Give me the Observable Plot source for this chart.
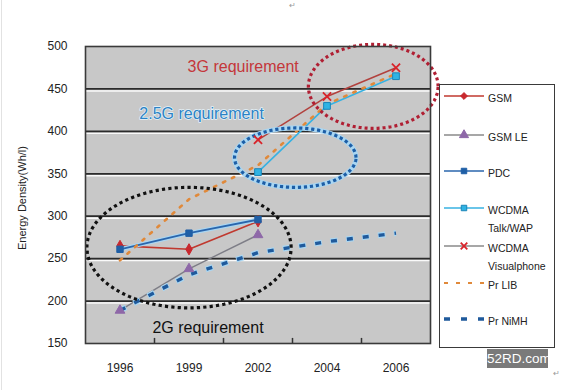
<!DOCTYPE html>
<html>
<head>
<meta charset="utf-8">
<script src="https://cdn.jsdelivr.net/npm/d3@7"></script>
<script src="https://cdn.jsdelivr.net/npm/@observablehq/plot@0.6"></script>
<style>
  html, body { margin: 0; padding: 0; background: #fff; }
  #wrap { position: relative; width: 580px; height: 390px; overflow: hidden; font-family: "Liberation Sans", Arial, sans-serif; }
  #leftline { position: absolute; left: 1px; top: 0; width: 1px; height: 390px; background: #e2e2e2; }
  #legend { position: absolute; left: 439px; top: 84px; width: 114px; height: 262px; border: 1.5px solid #3a3a3a; background: #fff; }
  .lrow { position: absolute; left: 0; width: 114px; font-size: 10.5px; color: #222; }
  .lrow svg { position: absolute; left: 3px; top: -6px; }
  .lrow span { position: absolute; left: 48px; top: -7px; white-space: nowrap; line-height: 18px; }
  #wm { position: absolute; left: 487px; top: 349px; width: 61px; height: 19px; background: #7a7a7a; color: #fff; font-size: 13.5px; line-height: 19px; text-align: center; }
  .ret { position: absolute; font-size: 8px; line-height: 9px; color: #999; }
</style>
</head>
<body>
<div id="wrap"><div id="leftline"></div></div>
<script>
// ---- data ----
const years = ["1996", "1999", "2002", "2004", "2006"];
const gsm         = [265, 261, 294, null, null];
const gsmLE       = [189, 238, 278, null, null];
const pdc         = [261, 280, 296, null, null];
const wcdmaTalk   = [null, null, 352, 430, 465];
const wcdmaVisual = [null, null, 390, 441, 475];
const prLIB       = [248, 320, 360, 432, 468];
const prNiMH      = [189, 231, 257, 270, 280];
const yTicks = [150, 200, 250, 300, 350, 400, 450, 500];
const gridValues = [200, 250, 300, 350, 400, 450];
const seriesNames = ["GSM", "GSM LE", "PDC", "WCDMA Talk/WAP", "WCDMA Visualphone", "Pr LIB", "Pr NiMH"];
const seriesValues = [gsm, gsmLE, pdc, wcdmaTalk, wcdmaVisual, prLIB, prNiMH];
const annotationLabels = ["3G requirement", "2.5G requirement", "2G requirement"];
const axisTitle = "Energy Density(Wh/l)";

// ---- styles ----
const styles = {
  "GSM":               {stroke: "#c0392f", width: 1.6, symbol: "diamond", fill: "#c8282e", r: 3.4},
  "GSM LE":            {stroke: "#7d7d86", width: 1.4, symbol: "triangle", fill: "#8e68a8", r: 3.6},
  "PDC":               {stroke: "#2a66ad", width: 1.8, symbol: "square", fill: "#1f5fa6", r: 3.6, halo: "#a9d6f2"},
  "WCDMA Talk/WAP":    {stroke: "#38b2e2", width: 1.6, symbol: "square", fill: "#2fb3e4", r: 3.8, markStroke: "#1b85b8"},
  "WCDMA Visualphone": {stroke: "#b2423e", width: 1.5, symbol: "times", fill: "#d8232a", r: 3.8},
  "Pr LIB":            {stroke: "#e0893a", width: 2.6, dash: "2.5,7.5", cap: "round"},
  "Pr NiMH":           {stroke: "#1f5a9c", width: 3.4, dash: "6,10", halo: "#a9d6f2", cap: "butt"}
};

const rows = seriesNames.flatMap((name, k) =>
  seriesValues[k].map((v, i) => ({series: name, i, value: v})).filter(d => d.value != null));
const bySeries = name => rows.filter(d => d.series === name);

// ellipse annotations (center/radii in data units)
const ellipses = [
  {cx: 1.0, cy: 263, rx: 1.48, ry: 71, color: "#111", halo: null, dash: "3.2,3.2"},
  {cx: 2.54, cy: 369, rx: 0.88, ry: 35, color: "#1d5ea6", halo: "#a9d6f2", dash: "3.2,2.8"},
  {cx: 3.67, cy: 453, rx: 0.94, ry: 49.5, color: "#b01f33", halo: null, dash: "3,3"}
];
const ellipsePts = e => d3.range(0, 2 * Math.PI, Math.PI / 90).map(t => ({x: e.cx + e.rx * Math.cos(t), y: e.cy + e.ry * Math.sin(t)}));

const marks = [];
marks.push(Plot.frame({fill: "#c8c8c8"}));
marks.push(Plot.ruleY(gridValues, {stroke: "#fafafa", strokeWidth: 1.4, dy: 2}));
marks.push(Plot.ruleY(gridValues, {stroke: "#2b2b2b", strokeWidth: 1.8}));
marks.push(Plot.ruleX([0.5, 1.5, 2.5, 3.5], {y1: 150, y2: 156, stroke: "#333", strokeWidth: 1.5}));

// series lines
for (const name of seriesNames) {
  const s = styles[name];
  const data = bySeries(name);
  const cap = s.cap || "round";
  if (s.halo) marks.push(Plot.line(data, {x: "i", y: "value", stroke: s.halo, strokeWidth: s.width + 2.4, strokeDasharray: s.dash ? "7.5,8.5" : undefined, strokeDashoffset: s.dash ? 0.75 : undefined, strokeLinecap: cap}));
  marks.push(Plot.line(data, {x: "i", y: "value", stroke: s.stroke, strokeWidth: s.width, strokeDasharray: s.dash, strokeLinecap: cap}));
}

// ellipses
for (const e of ellipses) {
  const pts = ellipsePts(e);
  if (e.halo) marks.push(Plot.line(pts, {x: "x", y: "y", curve: "linear-closed", stroke: e.halo, strokeWidth: 5, strokeLinecap: "butt"}));
  marks.push(Plot.line(pts, {x: "x", y: "y", curve: "linear-closed", stroke: e.color, strokeWidth: 3.2, strokeDasharray: e.dash, strokeLinecap: "butt"}));
}

// markers
for (const name of seriesNames) {
  const s = styles[name];
  if (!s.symbol) continue;
  const data = bySeries(name);
  if (s.symbol === "times") {
    marks.push(Plot.dot(data, {x: "i", y: "value", symbol: "times", r: s.r, stroke: s.fill, strokeWidth: 1.8}));
  } else {
    marks.push(Plot.dot(data, {x: "i", y: "value", symbol: s.symbol, r: s.r, fill: s.fill, stroke: s.markStroke || s.fill, strokeWidth: 1}));
  }
}

// text annotations
const annPos = [
  {x: 0.98, y: 476, color: "#c4373a"},
  {x: 0.28, y: 421, color: "#2b82c4"},
  {x: 0.47, y: 168, color: "#111"}
];
annotationLabels.forEach((t, k) => {
  marks.push(Plot.text([t], {x: annPos[k].x, y: annPos[k].y, text: d => d, textAnchor: "start", fill: annPos[k].color, fontSize: 16, stroke: k === 1 ? "#e4f3fb" : null, strokeWidth: 1.5, paintOrder: "stroke"}));
});

marks.push(Plot.text([axisTitle], {frameAnchor: "left", text: d => d, rotate: -90, dx: -63, dy: 55, fontSize: 11, fill: "#222"}));
marks.push(Plot.axisY(yTicks, {tickSize: 0, tickPadding: 18, fontSize: 12, label: null, fill: "#222"}));
marks.push(Plot.axisX([0, 1, 2, 3, 4], {tickSize: 0, tickPadding: 20, fontSize: 12, label: null, tickFormat: i => years[i], fill: "#222"}));
marks.push(Plot.frame({stroke: "#3a3a3a", strokeWidth: 1.6}));

const chart = Plot.plot({
  width: 580,
  height: 390,
  marginLeft: 85,
  marginRight: 150,
  marginTop: 46,
  marginBottom: 47,
  style: {fontFamily: "'Liberation Sans', Arial, sans-serif", background: "transparent", overflow: "visible"},
  x: {domain: [-0.5, 4.5]},
  y: {domain: [150, 500]},
  marks
});

const wrap = document.getElementById("wrap");
wrap.appendChild(chart);
chart.style.position = "absolute";
chart.style.left = "0";
chart.style.top = "0";

// legend
const legend = document.createElement("div");
legend.id = "legend";
const rowTops = [11, 50, 86, 123, 161, 198, 234];
seriesNames.forEach((name, k) => {
  const s = styles[name];
  const row = document.createElement("div");
  row.className = "lrow";
  row.style.top = rowTops[k] + "px";
  const ns = "http://www.w3.org/2000/svg";
  const svg = document.createElementNS(ns, "svg");
  svg.setAttribute("width", 42); svg.setAttribute("height", 12);
  const line = document.createElementNS(ns, "line");
  line.setAttribute("x1", 1); line.setAttribute("x2", 41); line.setAttribute("y1", 6); line.setAttribute("y2", 6);
  let lstroke = s.stroke;
  if (name === "GSM LE" || name === "WCDMA Visualphone") lstroke = "#8a8a8a";
  line.setAttribute("stroke", lstroke);
  line.setAttribute("stroke-width", name === "Pr NiMH" ? 3.4 : (name === "Pr LIB" ? 2.2 : 1.6));
  if (name === "Pr LIB") line.setAttribute("stroke-dasharray", "4,8");
  if (name === "Pr NiMH") line.setAttribute("stroke-dasharray", "6,11");
  svg.appendChild(line);
  if (s.symbol) {
    const sym = {diamond: d3.symbolDiamond2, triangle: d3.symbolTriangle, square: d3.symbolSquare, times: d3.symbolTimes}[s.symbol];
    const p = document.createElementNS(ns, "path");
    p.setAttribute("d", d3.symbol(sym, s.symbol === "triangle" ? 36 : 30)());
    p.setAttribute("transform", "translate(21,6)");
    if (s.symbol === "times") { p.setAttribute("stroke", s.fill); p.setAttribute("stroke-width", 1.8); p.setAttribute("fill", "none"); }
    else { p.setAttribute("fill", s.fill); p.setAttribute("stroke", s.markStroke || s.fill); }
    svg.appendChild(p);
  }
  row.appendChild(svg);
  const span = document.createElement("span");
  span.innerHTML = name.startsWith("WCDMA ") ? "WCDMA<br>" + name.slice(6) : name;
  row.appendChild(span);
  legend.appendChild(row);
});
wrap.appendChild(legend);

const wm = document.createElement("div");
wm.id = "wm"; wm.textContent = "52RD.com";
wrap.appendChild(wm);
for (const [l, t] of [[289, 1], [553, 369]]) {
  const r = document.createElement("div");
  r.className = "ret"; r.style.left = l + "px"; r.style.top = t + "px"; r.textContent = "↵";
  wrap.appendChild(r);
}
</script>
</body>
</html>
